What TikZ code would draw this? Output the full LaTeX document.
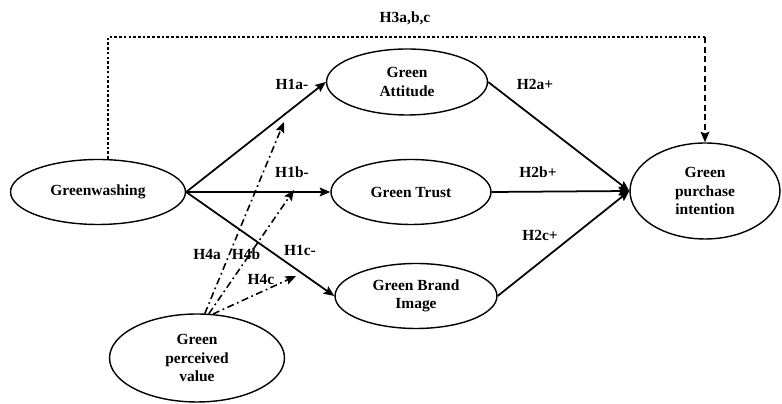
\documentclass[tikz,border=0pt]{standalone}
\usepackage{fontspec}
\setmainfont{Liberation Serif}
\usetikzlibrary{shapes.geometric,arrows.meta}

\begin{document}
\begin{tikzpicture}[>={Stealth[length=6pt,width=5pt,inset=1pt]},x=0.02cm,y=-0.02cm,
var/.style={ellipse, draw, line width=0.8pt, align=center, inner sep=0pt, font=\fontsize{8.8}{10.5}\selectfont\bfseries},
hyp/.style={inner sep=1pt, font=\fontsize{8.8}{10.5}\selectfont\bfseries},
effect/.style={line width=1pt, ->},
moder/.style={line width=0.9pt, ->, dash pattern=on 4pt off 2pt on 1pt off 2pt},
direct/.style={line width=0.7pt, dash pattern=on 1.5pt off 1.2pt},
directb/.style={line width=1pt, ->, dash pattern=on 3.5pt off 2pt}]

\useasboundingbox (0,0) rectangle (782,404);

\draw (98,192) node[var, minimum width=3.5cm, minimum height=1.3cm] (GW) {Greenwashing};
\draw (407,82) node[var, minimum width=3.22cm, minimum height=1.32cm] (GA) {Green\\Attitude};
\draw (411,192) node[var, minimum width=3.2cm, minimum height=1.3cm] (GT) {Green Trust};
\draw (416,296) node[var, minimum width=3.24cm, minimum height=1.3cm] (GBI) {Green Brand\\Image};
\draw (705,191) node[var, minimum width=3cm, minimum height=1.92cm] (GPI) {Green\\purchase\\intention};
\draw (197,358) node[var, minimum width=3.5cm, minimum height=1.76cm] (GPV) {Green\\perceived\\value};

\coordinate (h3a) at (108,37);
\coordinate (h3b) at (705,37);
\coordinate (t4a) at (284,122);
\coordinate (t4b) at (294,190);
\coordinate (t4c) at (296,276);

% hypotheses
\draw (292,84) node[hyp] (lH1a) {H1a-};
\draw (292,172) node[hyp] (lH1b) {H1b-};
\draw (300,250) node[hyp] (lH1c) {H1c-};
\draw (535,84) node[hyp] (lH2a) {H2a+};
\draw (538,172) node[hyp] (lH2b) {H2b+};
\draw (540,235) node[hyp] (lH2c) {H2c+};
\draw (405,18) node[hyp] (lH3) {H3a,b,c};
\draw (207,254) node[hyp] (lH4a) {H4a};
\draw (246,254) node[hyp] (lH4b) {H4b};
\draw (261,279) node[hyp] (lH4c) {H4c};

\draw[effect] (GW.east)--(GA.west);
\draw[effect] (GW.east)--(GT.west);
\draw[effect] (GW.east)--(GBI.west);
\draw[effect] (GA.east)--(GPI.west);
\draw[effect] (GT.east)--(GPI.west);
\draw[effect] (GBI.east)--(GPI.west);

\draw[direct] (GW.north -| h3a)--(h3a)--(h3b);
\draw[directb] (h3b)--(GPI.north);

\draw[moder] (GPV.80)--(t4a);
\draw[moder] (GPV.75)--(t4b);
\draw[moder] (GPV.70)--(t4c);

\end{tikzpicture}
\end{document}
